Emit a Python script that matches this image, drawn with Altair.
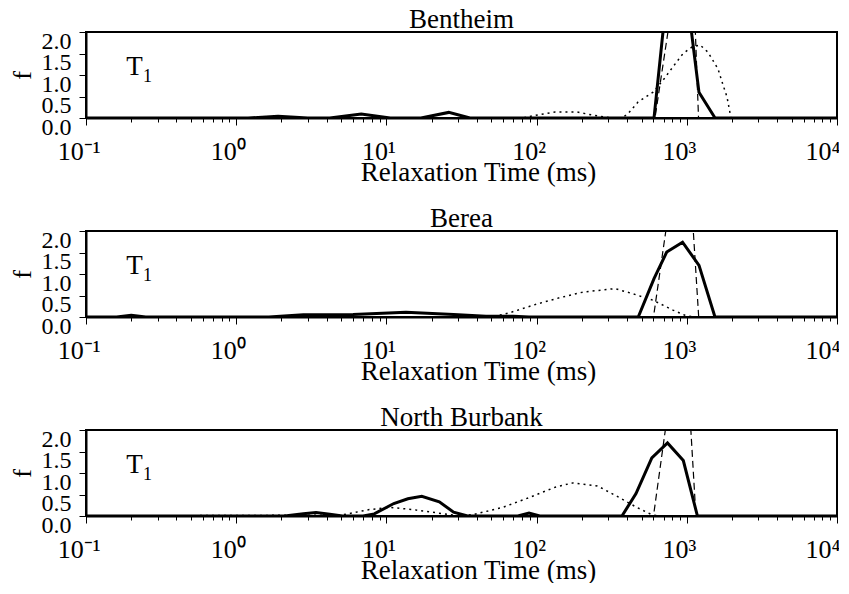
import json
import altair as alt
import pandas as pd

panel_names = ["Bentheim", "Berea", "North Burbank"]
decade_labels = ["10⁻¹", "10⁰", "10¹", "10²", "10³", "10⁴"]
y_ticks = [0.0, 0.5, 1.0, 1.5, 2.0]

# Bentheim
ben_solid_t = [0.1, 1.2, 1.9, 3.0, 4.2, 6.8, 10.6, 17, 26, 36, 605, 847, 1205, 1542, 10000]
ben_solid_f = [0, 0, 0.04, 0, 0, 0.09, 0, 0, 0.13, 0, 0, 4.9, 0.6, 0, 0]
ben_dash_t = [0.1, 614, 1050, 1197, 10000]
ben_dash_f = [0, 0, 5.4, 0, 0]
ben_dot_t = [0.1, 80, 105, 133, 186, 234, 300, 370, 406, 473, 596, 695, 809, 944,
             1082, 1224, 1384, 1614, 1742, 1852, 1968, 10000]
ben_dot_f = [0, 0, 0.08, 0.14, 0.14, 0.07, 0.01, 0, 0.1, 0.37, 0.6, 0.88, 1.19, 1.5,
             1.65, 1.7, 1.53, 1.14, 0.77, 0.49, 0, 0]

# Berea
ber_solid_t = [0.1, 0.16, 0.2, 0.25, 1.65, 2.8, 6, 13.5, 28, 46, 70, 89, 475, 605, 735, 937, 1206, 1540, 10000]
ber_solid_f = [0, 0, 0.04, 0, 0, 0.05, 0.06, 0.11, 0.06, 0.02, 0.02, 0, 0, 0.89, 1.51, 1.74, 1.2, 0, 0]
ber_dash_t = [0.1, 600, 760, 870, 1000, 1100, 1200, 10000]
ber_dash_f = [0, 0, 2.5, 3.0, 2.7, 2.1, 0, 0]
ber_dot_t = [0.1, 50, 65, 100, 143, 204, 333, 438, 596, 809, 973, 1100, 10000]
ber_dot_f = [0, 0, 0.09, 0.3, 0.45, 0.58, 0.66, 0.54, 0.39, 0.16, 0.04, 0, 0]

# North Burbank
nb_solid_t = [0.1, 2.1, 2.8, 3.4, 4.2, 5.1, 7, 8.3, 11.2, 13.9, 17.2, 22.5, 28, 34.7,
              75, 89, 105, 370, 459, 585, 744, 948, 1177, 10000]
nb_solid_f = [0, 0, 0.05, 0.08, 0.04, 0, 0, 0.05, 0.29, 0.4, 0.46, 0.33, 0.09, 0,
              0, 0.07, 0, 0, 0.52, 1.35, 1.7, 1.29, 0, 0]
nb_dash_t = [0.1, 600, 760, 870, 1000, 1060, 1150, 10000]
nb_dash_f = [0, 0, 2.6, 3.2, 2.6, 2.1, 0, 0]
nb_dot_t = [0.1, 5, 7.7, 10.6, 15, 22, 31, 38.6, 59.4, 91, 133, 174, 254, 351, 459, 585, 650, 10000]
nb_dot_f = [0, 0.02, 0.15, 0.2, 0.15, 0.07, 0, 0.04, 0.2, 0.44, 0.67, 0.77, 0.70, 0.44, 0.21, 0.03, 0, 0]

label_t = [0.21]
label_f = [1.0]

series_data = {
    "Bentheim": {"solid": (ben_solid_t, ben_solid_f), "dash": (ben_dash_t, ben_dash_f), "dot": (ben_dot_t, ben_dot_f)},
    "Berea": {"solid": (ber_solid_t, ber_solid_f), "dash": (ber_dash_t, ber_dash_f), "dot": (ber_dot_t, ber_dot_f)},
    "North Burbank": {"solid": (nb_solid_t, nb_solid_f), "dash": (nb_dash_t, nb_dash_f), "dot": (nb_dot_t, nb_dot_f)},
}

rows = []
for p, ser in series_data.items():
    for s, (ts, fs) in ser.items():
        for i, (t, f) in enumerate(zip(ts, fs)):
            rows.append({"panel": p, "series": s, "t": t, "f": f, "order": i})
df = pd.DataFrame(rows)
ann = pd.DataFrame({"t": label_t, "f": label_f})

tick_values = []
for k in range(-1, 4):
    for m in range(1, 10):
        tick_values.append(round(m * 10 ** k, 6))
tick_values.append(10000)

is_decade = "abs(log(datum.value)/LN10 - round(log(datum.value)/LN10)) < 0.001"
label_expr = f"({is_decade}) ? {json.dumps(decade_labels, ensure_ascii=False)}[round(log(datum.value)/LN10) + 1] : ''"

SERIF = "Liberation Serif"

x_axis = alt.Axis(
    values=tick_values, labelExpr=label_expr, labelOverlap=False, labelFlush=False,
    tickSize={"condition": {"test": is_decade, "value": 7}, "value": 4},
    labelAlign="right",
    labelOffset={"condition": [{"test": "datum.value < 0.5", "value": 14},
                               {"test": "datum.value > 5000", "value": 3}], "value": 9},
    tickWidth=1, domainWidth=2, labelFontSize=26, labelPadding=13,
    title="Relaxation Time (ms)", titleFontSize=27, titlePadding=-5,
    titleX=392, titleAnchor="start", titleAlign="center",
)
y_axis = alt.Axis(
    values=y_ticks, format=".1f", labelBaseline="top", labelFontSize=24, labelPadding=8,
    labelOverlap=False, labelFlush=False, labelOffset=-3,
    tickSize=7, tickWidth=1, domainWidth=2, title="f", titleFontSize=26, titlePadding=6,
)

x_enc = alt.X("t:Q", scale=alt.Scale(type="log", domain=[0.1, 10000], nice=False), axis=x_axis)
y_enc = alt.Y("f:Q", scale=alt.Scale(domain=[0, 2], nice=False, zero=True), axis=y_axis)

styles = {
    "dot": dict(strokeWidth=1.5, strokeDash=[2, 4]),
    "dash": dict(strokeWidth=1.2, strokeDash=[7, 4]),
    "solid": dict(strokeWidth=3),
}


def make_panel(name):
    base = alt.Chart(df[df.panel == name])
    layers = []
    for s in ["dot", "dash", "solid"]:
        layers.append(
            base.transform_filter(alt.datum.series == s)
            .mark_line(color="black", clip=True, **styles[s])
            .encode(x=x_enc, y=y_enc, order="order:Q")
        )
    tmark = alt.Chart(ann).mark_text(text="T", font=SERIF, fontSize=27, align="center", baseline="alphabetic", color="black").encode(x=x_enc, y=y_enc)
    sub = alt.Chart(ann).mark_text(text="1", font=SERIF, fontSize=18, align="center", baseline="alphabetic", dx=13, dy=7, color="black").encode(x=x_enc, y=y_enc)
    layers += [tmark, sub]
    return alt.layer(*layers).properties(
        width=751, height=86,
        title=alt.TitleParams(name, font=SERIF, fontSize=27, fontWeight="normal", color="black",
                              offset=-5, anchor="middle"),
    )


chart = alt.vconcat(*[make_panel(n) for n in panel_names], spacing=113, bounds="flush").properties(
    padding={"left": 0, "top": -3, "right": -2, "bottom": -1}
).configure_view(stroke="black", strokeWidth=2).configure_axis(
    domainColor="black", tickColor="black", labelColor="black", titleColor="black", grid=False,
    labelFont=SERIF, titleFont=SERIF, titleFontWeight="normal",
)

chart.save("out.html", embed_options={"renderer": "svg", "actions": False})
